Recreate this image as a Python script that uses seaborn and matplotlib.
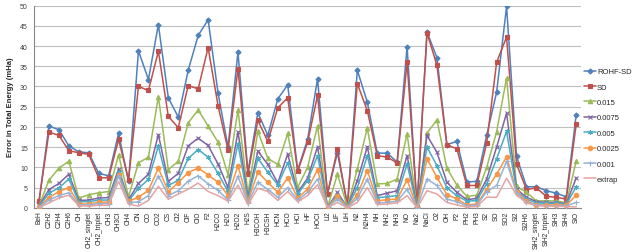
import numpy as np
import pandas as pd
import matplotlib
matplotlib.use('Agg')
import matplotlib.pyplot as plt
import seaborn as sns

molecules = ['BeH', 'C2H2', 'C2H4', 'C2H6', 'CH', 'CH2_singlet', 'CH2_triplet', 'CH3', 'CH3Cl', 'CH4',
             'CN', 'CO', 'CO2', 'CS', 'Cl2', 'ClF', 'ClO', 'F2', 'H2CO', 'H2O',
             'H2O2', 'H2S', 'H3COH', 'H3CSH', 'HCN', 'HCO', 'HCl', 'HF', 'HOCl', 'Li2',
             'LiF', 'LiH', 'N2', 'N2H4', 'NH', 'NH2', 'NH3', 'NO', 'Na2', 'NaCl',
             'O2', 'OH', 'P2', 'PH2', 'PH3', 'S2', 'SO', 'SO2', 'Si2', 'Si2H6',
             'SiH2_singlet', 'SiH2_triplet', 'SiH3', 'SiH4', 'SiO']

rohf_sd = [1.5, 20.2, 19.3, 15.3, 13.8, 13.6, 8.5, 7.9, 18.4, 6.5,
           38.8, 31.7, 45.3, 27.2, 22.4, 34.0, 42.6, 46.5, 28.3, 15.0,
           38.5, 8.8, 23.5, 17.9, 26.9, 30.4, 9.3, 16.9, 31.9, 3.5,
           13.6, 0.6, 34.0, 26.1, 13.5, 13.5, 11.3, 39.8, 0.2, 43.5,
           37.1, 15.6, 16.4, 6.4, 6.5, 17.9, 28.6, 49.8, 12.7, 5.2,
           5.2, 4.2, 3.6, 2.7, 23.0]
sd = [1.6, 18.7, 17.9, 14.1, 13.6, 13.2, 7.4, 7.4, 16.9, 6.9,
      30.0, 29.0, 38.7, 22.6, 19.8, 30.2, 29.4, 39.6, 25.2, 14.3,
      34.4, 8.3, 21.6, 16.4, 24.7, 27.2, 9.0, 16.2, 27.8, 3.4,
      14.5, 0.5, 30.7, 24.0, 12.9, 12.5, 11.1, 36.0, 0.2, 43.3,
      35.2, 15.5, 14.6, 5.5, 5.5, 16.0, 36.0, 42.2, 10.8, 4.5,
      4.9, 2.8, 2.6, 2.1, 20.7]
t015 = [0.5, 6.8, 9.8, 11.5, 2.4, 3.2, 3.7, 4.0, 13.1, 2.7,
        11.1, 12.5, 27.5, 9.4, 11.5, 21.0, 24.2, 20.2, 16.2, 8.2,
        24.2, 3.5, 18.9, 12.2, 10.7, 18.4, 5.0, 10.0, 20.3, 0.1,
        8.3, 0.2, 9.6, 19.7, 5.9, 6.0, 7.1, 18.3, 0.1, 18.5,
        21.7, 9.8, 5.6, 2.8, 3.1, 10.0, 18.8, 32.1, 5.3, 3.8,
        1.7, 1.7, 1.7, 1.2, 11.5]
t0075 = [0.4, 4.5, 6.0, 8.3, 1.8, 1.9, 2.4, 2.5, 9.6, 2.0,
         6.0, 8.3, 18.1, 6.5, 8.5, 15.3, 17.2, 15.4, 10.8, 5.0,
         18.8, 2.5, 14.0, 10.7, 6.1, 13.3, 3.8, 7.3, 15.1, 0.1,
         3.8, 0.1, 6.7, 15.1, 3.0, 3.6, 4.2, 12.9, 0.1, 17.9,
         13.7, 6.3, 3.8, 2.0, 2.3, 7.1, 15.0, 23.4, 4.6, 2.6,
         1.5, 1.3, 1.3, 1.0, 7.4]
t005 = [0.3, 3.6, 4.9, 7.1, 1.5, 1.5, 1.9, 1.9, 8.9, 1.7,
        4.8, 7.0, 15.2, 5.5, 6.8, 12.2, 14.4, 12.5, 8.5, 4.0,
        15.8, 2.0, 12.2, 8.8, 5.7, 11.1, 3.4, 6.7, 12.9, 0.1,
        3.2, 0.1, 5.0, 12.9, 2.5, 2.7, 3.0, 10.8, 0.1, 15.0,
        10.4, 4.9, 3.0, 1.6, 1.8, 5.9, 12.1, 18.9, 4.2, 2.1,
        1.2, 1.1, 1.1, 0.8, 5.2]
t0025 = [0.1, 2.5, 4.0, 5.0, 1.0, 0.9, 1.4, 1.4, 8.2, 1.6,
         2.6, 4.3, 9.8, 4.0, 6.2, 8.7, 9.8, 8.1, 6.3, 3.0,
         10.4, 1.6, 8.8, 6.3, 3.8, 7.4, 2.4, 4.6, 9.4, 0.1,
         2.8, 0.1, 3.2, 9.2, 1.7, 2.0, 2.1, 6.9, 0.0, 12.1,
         7.5, 3.2, 2.2, 0.7, 0.9, 4.5, 8.3, 12.6, 4.0, 1.6,
         0.7, 0.7, 0.7, 0.6, 3.1]
t001 = [0.1, 1.9, 3.0, 3.7, 0.7, 0.7, 1.0, 1.0, 7.9, 1.2,
        1.5, 3.0, 7.9, 3.0, 4.2, 6.6, 7.9, 5.9, 4.3, 1.9,
        7.8, 1.2, 6.3, 4.5, 2.6, 5.0, 1.9, 3.8, 7.1, 0.1,
        2.1, 0.1, 2.3, 7.1, 1.2, 1.3, 1.6, 4.6, 0.0, 7.1,
        5.5, 2.1, 1.5, 0.5, 0.6, 4.0, 5.5, 11.5, 3.6, 1.3,
        0.7, 0.5, 0.5, 0.5, 1.3]
extrap = [0.0, 1.2, 2.4, 3.1, 0.5, 0.4, 0.6, 0.6, 6.5, 0.9,
          0.4, 1.8, 5.3, 2.1, 3.4, 4.6, 6.1, 4.0, 3.0, 1.6,
          5.6, 0.8, 4.8, 4.0, 1.8, 4.0, 1.5, 3.0, 5.7, 0.0,
          1.3, 0.0, 1.3, 5.0, 0.8, 0.9, 1.2, 3.0, 0.0, 4.2,
          3.4, 1.3, 0.7, 0.2, 0.3, 2.6, 2.6, 7.3, 3.1, 1.2,
          0.5, 0.4, 0.4, 0.3, 0.2]

series = [
    ('ROHF-SD', rohf_sd, '#4F81BD', 'D', 2.6),
    ('SD', sd, '#C0504D', 's', 3.2),
    ('0.015', t015, '#9BBB59', '^', 3.2),
    ('0.0075', t0075, '#8064A2', 'x', 3.2),
    ('0.005', t005, '#4BACC6', (6, 2, 0), 3.6),
    ('0.0025', t0025, '#F79646', 'o', 3.2),
    ('0.001', t001, '#95B3D7', '+', 3.6),
    ('extrap', extrap, '#E6A4A2', None, 0),
]

sns.set_style('white')
plt.rcParams['font.family'] = ['Liberation Sans', 'DejaVu Sans']

fig = plt.figure(figsize=(6.37, 2.53), dpi=100)
ax = fig.add_axes([0.0534, 0.175, 0.859, 0.799])

x = np.arange(len(molecules))
for k, (name, vals, col, mk, ms) in enumerate(series):
    sns.lineplot(x=x, y=vals, ax=ax, color=col, marker=mk, markersize=ms,
                 markeredgecolor=col, markeredgewidth=0.8, linewidth=1.1,
                 label=name, zorder=3 + k)

ax.set_xlim(-0.5, len(molecules) - 0.5)
ax.set_ylim(0, 50)
ax.set_yticks(np.arange(0, 51, 5))
ax.yaxis.grid(True, color='#BFBFBF', linewidth=0.8)
ax.set_axisbelow(True)

ax.set_xticks(x)
ax.set_xticklabels(molecules, rotation=90, fontsize=4.8, color='#262626')
ax.set_xticks(np.arange(-0.5, len(molecules), 1), minor=True)
ax.tick_params(axis='x', which='major', length=0, pad=2)
ax.tick_params(axis='x', which='minor', length=3, color='#868686', width=0.6, direction='out')
ax.tick_params(axis='y', labelsize=5, colors='#404040', length=2.5, width=0.6, pad=2)

for side in ['top', 'right']:
    ax.spines[side].set_visible(False)
for side in ['left', 'bottom']:
    ax.spines[side].set_color('#868686')
    ax.spines[side].set_linewidth(0.8)

ax.set_ylabel('Error in Total Energy (mHa)', fontsize=5.5, fontweight='bold', labelpad=4)

ax.legend(loc='center left', bbox_to_anchor=(0.912, 0.5), bbox_transform=fig.transFigure,
          frameon=False, fontsize=5.5, handlelength=1.6, handletextpad=0.1,
          labelspacing=1.05, borderaxespad=0)

fig.savefig('out.png', dpi=100)
